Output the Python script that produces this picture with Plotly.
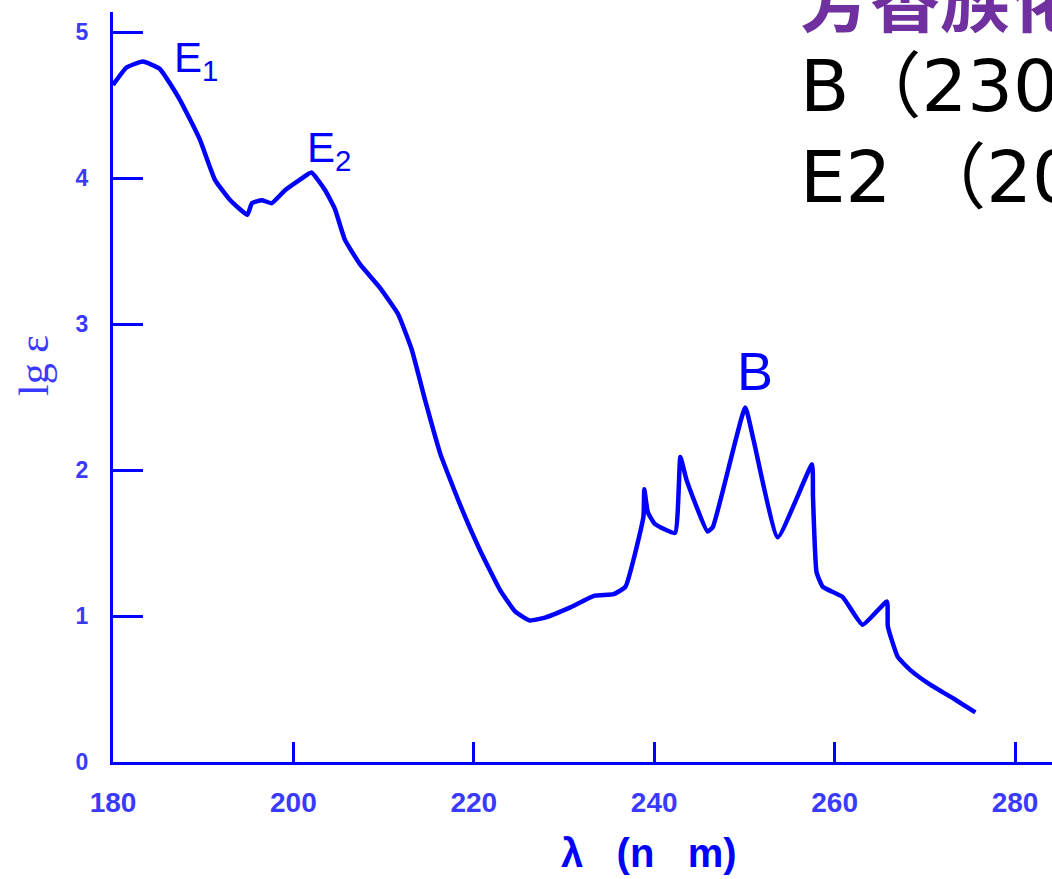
import plotly.graph_objects as go

# UV absorption spectrum of benzene
wavelength = [180.0, 181.5, 183.3, 185.2, 187.4, 189.6, 191.3, 193.0, 194.9, 195.4, 196.5, 197.6,
              199.1, 200.7, 202.0, 203.5, 204.6, 205.7, 207.4, 209.6, 211.6, 213.1, 214.6,
              216.3, 218.5, 220.7, 222.9, 224.6, 226.2, 227.9, 230.7, 233.4, 235.5, 236.8,
              238.8, 238.9, 239.3, 240.1, 242.3, 242.9, 243.6, 245.9, 246.5, 250.1, 251.0,
              253.7, 257.5, 257.6, 258.0, 258.7, 260.9, 263.1, 265.8, 265.9, 267.0, 268.4,
              270.6, 273.3, 275.6]
lg_eps = [4.64, 4.76, 4.80, 4.75, 4.54, 4.27, 3.99, 3.85, 3.75, 3.83, 3.85, 3.83,
          3.92, 3.99, 4.04, 3.92, 3.79, 3.58, 3.41, 3.25, 3.07, 2.83, 2.48,
          2.11, 1.76, 1.45, 1.18, 1.03, 0.97, 0.99, 1.06, 1.14, 1.15, 1.20,
          1.68, 1.87, 1.71, 1.63, 1.57, 2.09, 1.93, 1.58, 1.61, 2.43, 2.21,
          1.54, 2.04, 1.82, 1.30, 1.20, 1.13, 0.94, 1.10, 0.93, 0.72, 0.63,
          0.53, 0.43, 0.34]

x_ticks = [180, 200, 220, 240, 260, 280]
y_ticks = [0, 1, 2, 3, 4, 5]

band_labels = ["E<sub>1</sub>", "E<sub>2</sub>", "B"]
band_x = [189.2, 203.9, 251.2]
band_y = [4.81, 4.19, 2.68]
band_size = [42, 42, 54]

NB = "\u00a0"
x_title = "λ" + NB * 3 + "(n" + NB * 3 + "m)"
y_title = "lg ε"
slide_title = "<b>芳香族化合物</b>"
slide_lines = ["B（230", "E2 （20"]

BLUE = "#0000FF"
LBLUE = "#3a3aff"

fig = go.Figure()
fig.add_trace(go.Scatter(x=wavelength, y=lg_eps, mode="lines",
                         line=dict(color=BLUE, width=4.5, shape="spline", smoothing=0.4),
                         showlegend=False, hoverinfo="skip"))

fig.update_layout(
    width=1052, height=879,
    margin=dict(l=113, r=0, t=12, b=117),
    plot_bgcolor="white", paper_bgcolor="white",
    font=dict(family="Liberation Sans, Arial, sans-serif", color=LBLUE),
    xaxis=dict(range=[180, 284.1], tickvals=x_ticks, ticktext=["<b>%d</b>" % v for v in x_ticks],
               showgrid=False, zeroline=False, showline=True, linecolor=BLUE, linewidth=3,
               ticks="inside", ticklen=20, tickwidth=3, tickcolor=BLUE,
               tickfont=dict(size=28, color=LBLUE, family="Liberation Sans, Arial"),
               ticklabelstandoff=13),
    yaxis=dict(range=[0, 5.14], tickvals=y_ticks, ticktext=["<b>%d</b>" % v for v in y_ticks],
               showgrid=False, zeroline=False, showline=True, linecolor=BLUE, linewidth=3,
               ticks="inside", ticklen=30, tickwidth=2.5, tickcolor=BLUE,
               tickfont=dict(size=23, color=LBLUE, family="Liberation Sans, Arial"),
               ticklabelstandoff=17),
)

pl, pr, pt, pb = 113, 1052, 12, 762
def px_to_paper(px, py):
    return (px - pl) / (pr - pl), (pb - py) / (pb - pt)

for t, x, y, s in zip(band_labels, band_x, band_y, band_size):
    fig.add_annotation(text=t, x=x, y=y, xref="x", yref="y", showarrow=False,
                       xanchor="center", yanchor="middle",
                       font=dict(size=s, color=BLUE, family="Liberation Sans, Arial"))

xa, ya = px_to_paper(649, 853)
fig.add_annotation(text="<b>" + x_title + "</b>", x=xa, y=ya, xref="paper", yref="paper", showarrow=False,
                   xanchor="center", yanchor="middle",
                   font=dict(size=40, color=BLUE, family="Liberation Sans, Arial"))
xa, ya = px_to_paper(34, 366)
fig.add_annotation(text=y_title, x=xa, y=ya, xref="paper", yref="paper", showarrow=False,
                   xanchor="center", yanchor="middle",
                   textangle=-90, font=dict(size=42, color=LBLUE, family="Liberation Serif, serif"))

xa, ya = px_to_paper(798, -3)
fig.add_annotation(text=slide_title, x=xa, y=ya, xref="paper", yref="paper", showarrow=False,
                   xanchor="left", yanchor="middle",
                   font=dict(size=70, color="#7030A0", family="Noto Sans CJK SC"))
for line, py in zip(slide_lines, [86, 177]):
    xa, ya = px_to_paper(798, py)
    fig.add_annotation(text=line, x=xa, y=ya, xref="paper", yref="paper", showarrow=False,
                       xanchor="left", yanchor="middle",
                       font=dict(size=72, color="black", family="DejaVu Sans, Noto Sans CJK SC"))

fig.write_html("out.html")
